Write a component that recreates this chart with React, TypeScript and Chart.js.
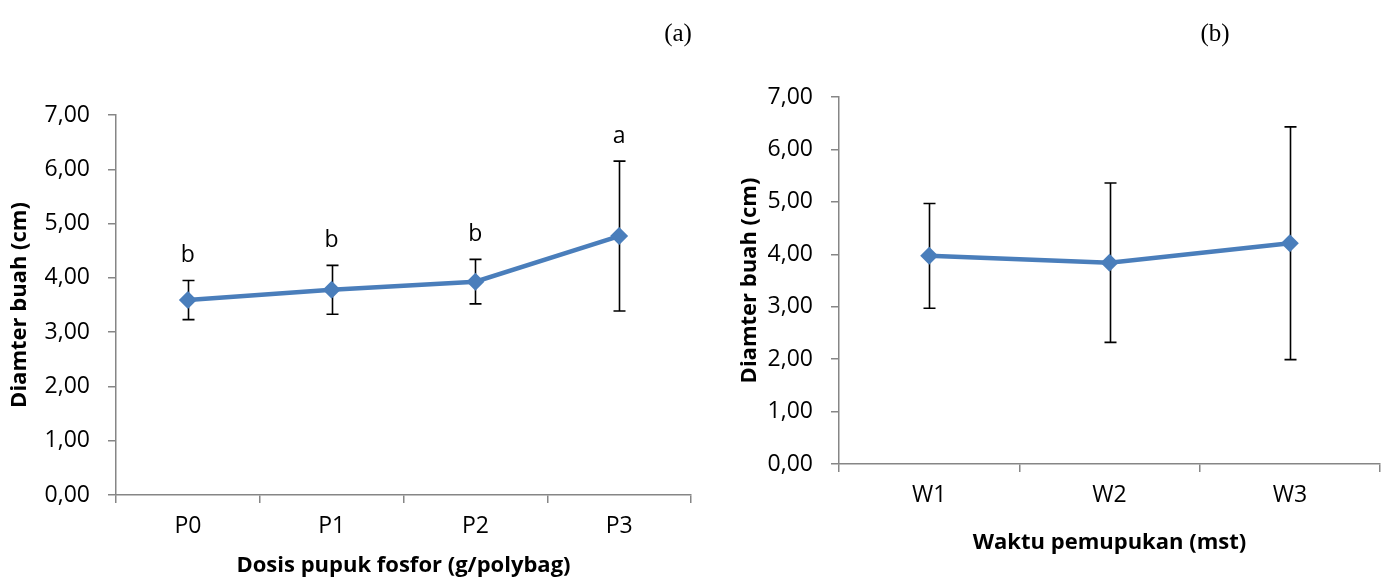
import React, { useEffect, useRef } from 'react';
import { Chart, registerables } from 'chart.js';

Chart.register(...registerables);

// ---- Data: chart (a) ----
const categoriesA = ['P0', 'P1', 'P2', 'P3'];
const meansA = [3.59, 3.78, 3.93, 4.77];
const errorsA = [0.36, 0.45, 0.41, 1.38];
const lettersA = ['b', 'b', 'b', 'a'];
const xTitleA = 'Dosis pupuk fosfor (g/polybag)';

// ---- Data: chart (b) ----
const categoriesB = ['W1', 'W2', 'W3'];
const meansB = [3.97, 3.84, 4.21];
const errorsB = [1.0, 1.52, 2.22];
const lettersB: string[] = [];
const xTitleB = 'Waktu pemupukan (mst)';

const yTitle = 'Diamter buah (cm)';
const yMin = 0;
const yMax = 7;
const yStep = 1;

const FONT = "'Open Sans', 'Noto Sans', sans-serif";
const LINE_COLOR = '#4A7EBB';
const AXIS_COLOR = '#868686';

const errorBarPlugin = {
  id: 'errorBars',
  beforeDatasetsDraw(chart: any, _args: any, opts: any) {
    const { ctx } = chart;
    const meta = chart.getDatasetMeta(0);
    const yScale = chart.scales.y;
    const ds = chart.data.datasets[0].data as number[];
    const errs: number[] = opts.errors || [];
    ctx.save();
    ctx.strokeStyle = '#000';
    ctx.lineWidth = 1.6;
    meta.data.forEach((pt: any, i: number) => {
      const e = errs[i];
      if (e == null) return;
      const x = Math.round(pt.x) + 0.5;
      const yt = yScale.getPixelForValue(ds[i] + e);
      const yb = yScale.getPixelForValue(ds[i] - e);
      ctx.beginPath();
      ctx.moveTo(x, yt);
      ctx.lineTo(x, yb);
      ctx.moveTo(x - 6, yt);
      ctx.lineTo(x + 6, yt);
      ctx.moveTo(x - 6, yb);
      ctx.lineTo(x + 6, yb);
      ctx.stroke();
    });
    ctx.restore();
  },
  afterDatasetsDraw(chart: any, _args: any, opts: any) {
    const { ctx } = chart;
    const meta = chart.getDatasetMeta(0);
    const yScale = chart.scales.y;
    const ds = chart.data.datasets[0].data as number[];
    const errs: number[] = opts.errors || [];
    const letters: string[] = opts.letters || [];
    ctx.save();
    ctx.fillStyle = '#000';
    ctx.font = `23px ${FONT}`;
    ctx.textAlign = 'center';
    ctx.textBaseline = 'middle';
    meta.data.forEach((pt: any, i: number) => {
      if (!letters[i]) return;
      const yt = yScale.getPixelForValue(ds[i] + (errs[i] || 0));
      ctx.fillText(letters[i], pt.x, yt - 25);
    });
    ctx.restore();
  },
};

function makeConfig(
  labels: string[],
  means: number[],
  errors: number[],
  letters: string[],
  xTitle: string,
  pad: { top: number; right: number },
  yWidth: number,
  xHeight: number,
  yTitlePad: number,
  xTitlePad: number
): any {
  const tickFont = { family: FONT, size: 23 };
  const titleFont = { family: FONT, size: 22, weight: 'bold' as const };
  return {
    type: 'line',
    data: {
      labels,
      datasets: [
        {
          data: means,
          borderColor: LINE_COLOR,
          backgroundColor: LINE_COLOR,
          borderWidth: 4.5,
          pointStyle: 'rectRot',
          pointRadius: 9,
          pointBorderWidth: 0,
          pointBackgroundColor: LINE_COLOR,
          tension: 0,
        },
      ],
    },
    options: {
      animation: false,
      responsive: false,
      maintainAspectRatio: false,
      layout: { padding: { left: 0, top: pad.top, right: pad.right, bottom: 0 } },
      plugins: {
        legend: { display: false },
        tooltip: { enabled: false },
        errorBars: { errors, letters },
      },
      scales: {
        x: {
          type: 'category',
          offset: true,
          grid: {
            offset: true,
            drawOnChartArea: false,
            drawTicks: true,
            tickLength: 8,
            color: AXIS_COLOR,
            lineWidth: 1.5,
          },
          border: { display: true, color: AXIS_COLOR, width: 1.5 },
          ticks: { color: '#000', font: tickFont, padding: 10, maxRotation: 0 },
          title: {
            display: true,
            text: xTitle,
            color: '#000',
            font: titleFont,
            padding: { top: 0, bottom: xTitlePad },
          },
          afterFit: (s: any) => {
            s.height = xHeight;
          },
        },
        y: {
          type: 'linear',
          min: yMin,
          max: yMax,
          grid: {
            drawOnChartArea: false,
            drawTicks: true,
            tickLength: 8,
            color: AXIS_COLOR,
            lineWidth: 1.5,
          },
          border: { display: true, color: AXIS_COLOR, width: 1.5 },
          ticks: {
            stepSize: yStep,
            color: '#000',
            font: tickFont,
            padding: 18,
            callback: (v: number) => Number(v).toFixed(2).replace('.', ','),
          },
          title: {
            display: true,
            text: yTitle,
            color: '#000',
            font: titleFont,
            padding: { top: yTitlePad, bottom: 0 },
          },
          afterFit: (s: any) => {
            s.width = yWidth;
          },
        },
      },
    },
    plugins: [errorBarPlugin],
  };
}

function ChartCanvas(props: {
  width: number;
  height: number;
  left: number;
  config: () => any;
}) {
  const ref = useRef<HTMLCanvasElement | null>(null);
  useEffect(() => {
    if (!ref.current) return;
    const chart = new Chart(ref.current, props.config());
    return () => chart.destroy();
  }, []);
  return (
    <canvas
      ref={ref}
      width={props.width}
      height={props.height}
      style={{
        position: 'absolute',
        left: props.left,
        top: 0,
        width: props.width,
        height: props.height,
      }}
    />
  );
}

export default function App() {
  return (
    <div
      style={{
        position: 'absolute',
        left: 0,
        top: 0,
        width: 1389,
        height: 581,
        background: '#fff',
        overflow: 'hidden',
      }}
    >
      <ChartCanvas
        width={700}
        height={581}
        left={0}
        config={() =>
          makeConfig(categoriesA, meansA, errorsA, lettersA, xTitleA, { top: 115, right: 8 }, 116, 86, 7, 2)
        }
      />
      <ChartCanvas
        width={689}
        height={581}
        left={700}
        config={() =>
          makeConfig(categoriesB, meansB, errorsB, lettersB, xTitleB, { top: 97, right: 7 }, 139, 117, 37, 25)
        }
      />
      <div
        style={{
          position: 'absolute',
          left: 678,
          top: 33,
          transform: 'translate(-50%, -50%)',
          fontFamily: "'Liberation Serif', 'Times New Roman', serif",
          fontSize: 25,
          color: '#000',
        }}
      >
        (a)
      </div>
      <div
        style={{
          position: 'absolute',
          left: 1215,
          top: 33,
          transform: 'translate(-50%, -50%)',
          fontFamily: "'Liberation Serif', 'Times New Roman', serif",
          fontSize: 25,
          color: '#000',
        }}
      >
        (b)
      </div>
    </div>
  );
}
